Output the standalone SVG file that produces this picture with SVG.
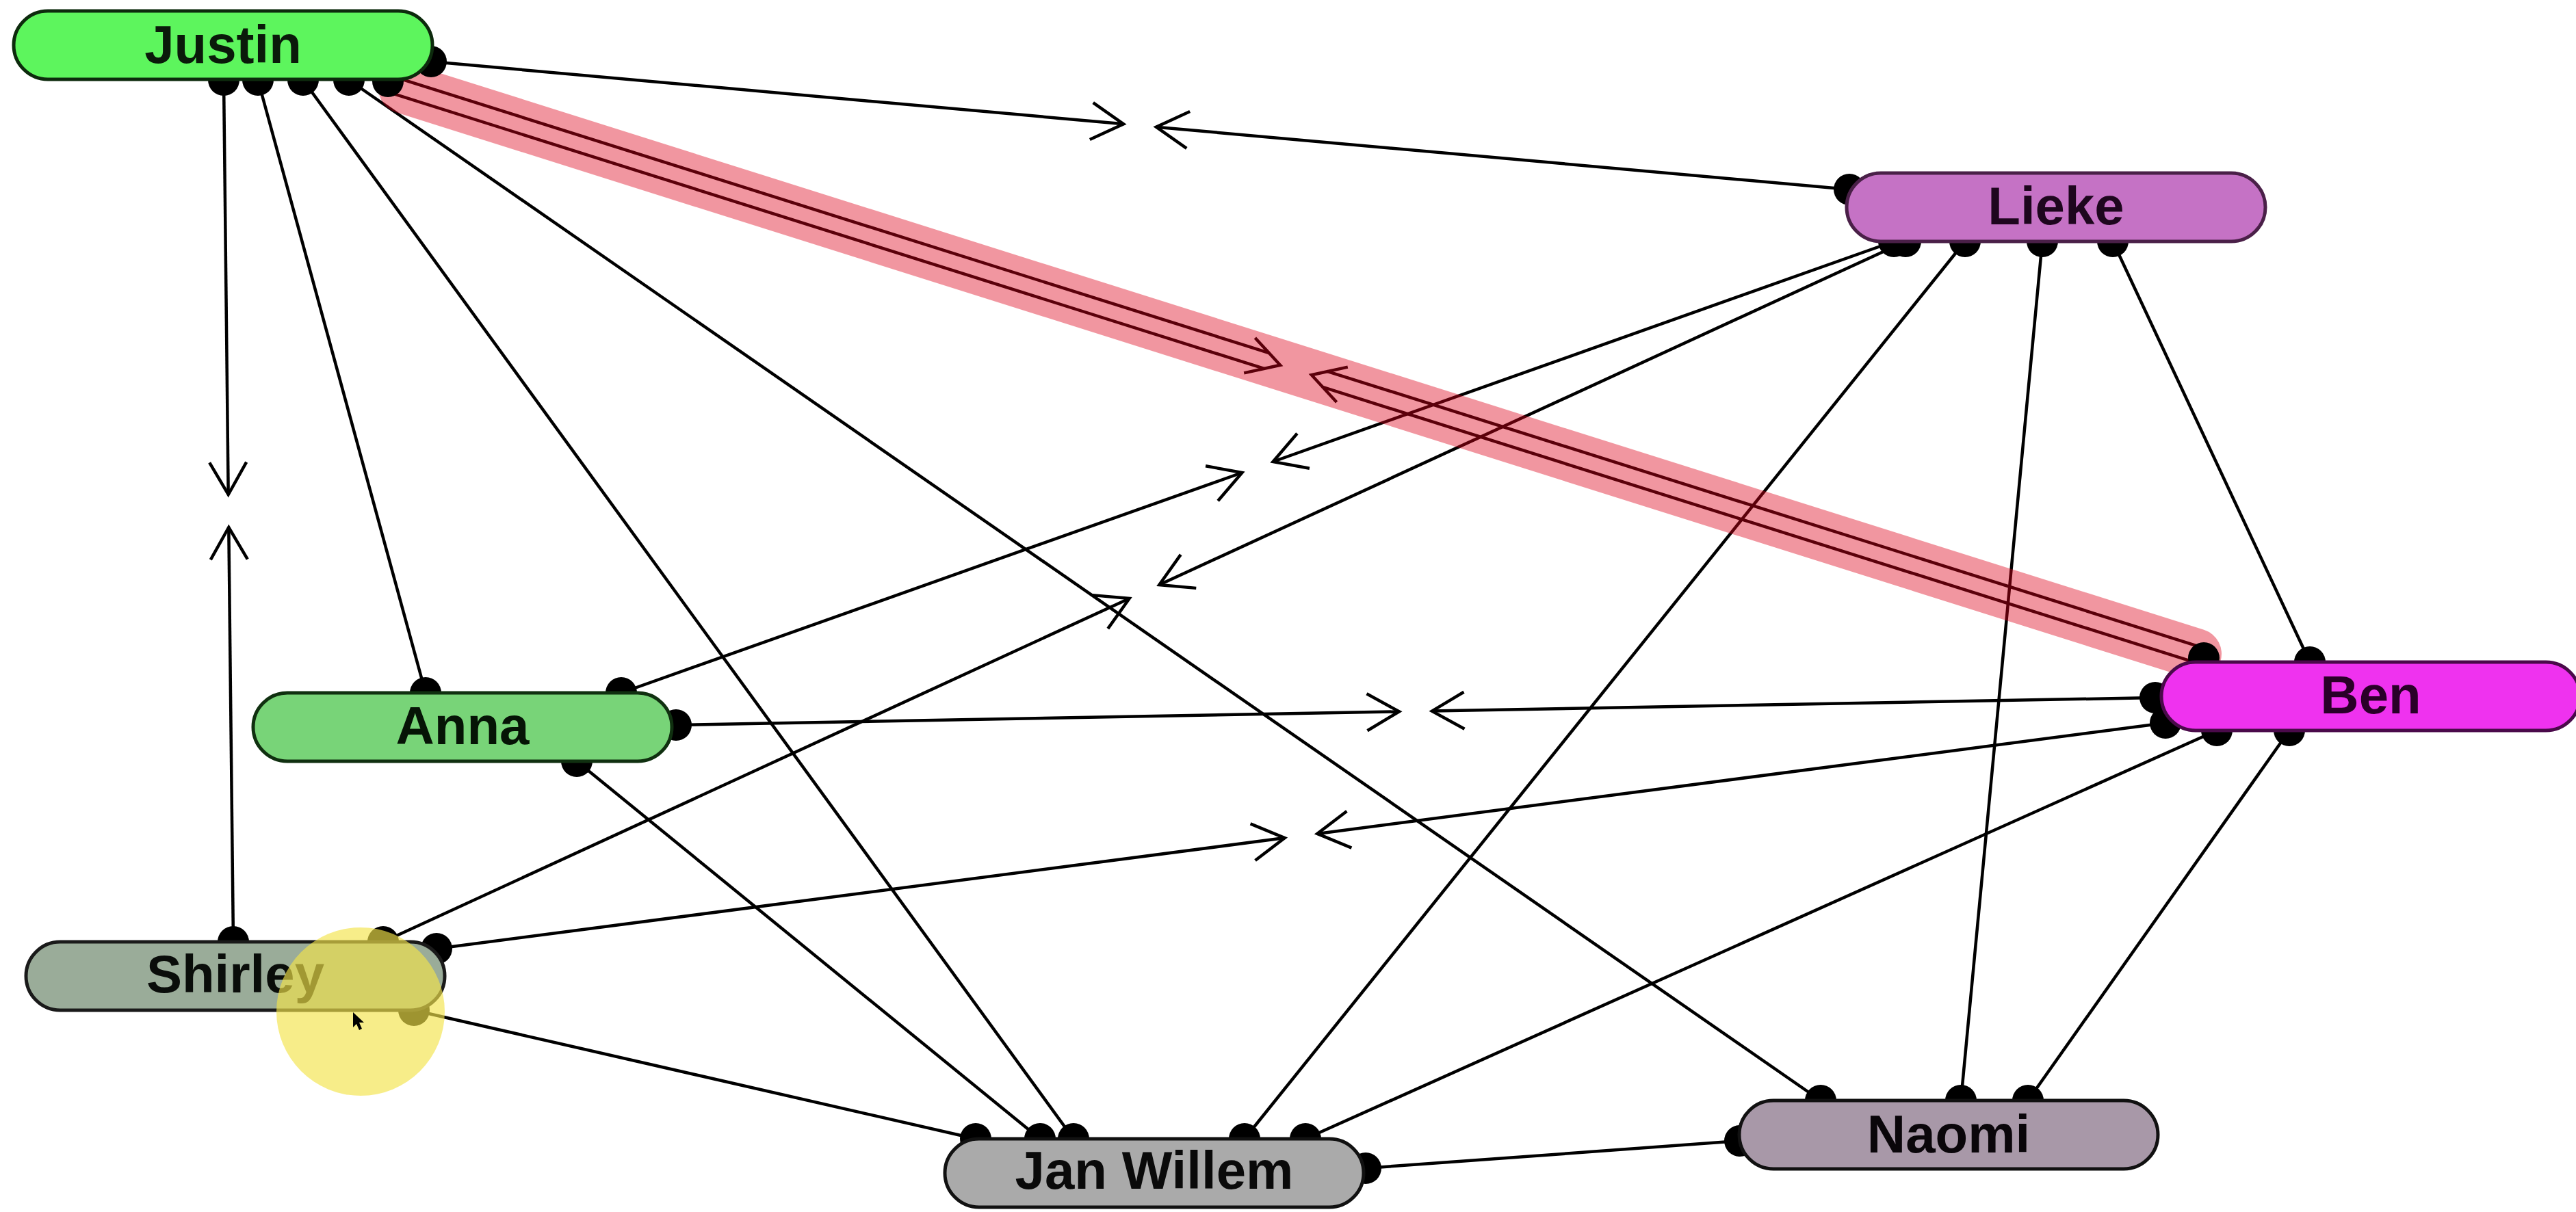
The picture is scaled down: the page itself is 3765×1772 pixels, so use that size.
<svg xmlns="http://www.w3.org/2000/svg" width="3765" height="1772" viewBox="0 0 3765 1772">
<defs>
<style>
.ln{stroke:#000;stroke-width:4.5;fill:none}
.ah{stroke:#000;stroke-width:4.5;fill:none;stroke-linejoin:miter}
.dot{fill:#000}
.box{stroke-width:5}
.lbl{font-family:"Liberation Sans",Arial,sans-serif;font-weight:bold;font-size:78px;text-anchor:middle}
</style>
<marker id="arr" markerUnits="userSpaceOnUse" markerWidth="70" markerHeight="70" viewBox="-60 -35 70 70" refX="0" refY="0" orient="auto" overflow="visible">
<path d="M-47,-27 L0,0 L-47,27" fill="none" stroke="#000" stroke-width="4.5"/>
</marker>
</defs>
<rect width="3765" height="1772" fill="#fff"/>
<g id="connectors">
<!-- bidirectional edges, two halves with arrows toward middle -->
<line class="ln" x1="630" y1="90" x2="1642.1" y2="181.3" marker-end="url(#arr)"/>
<line class="ln" x1="2703" y1="277" x2="1689.9" y2="185.7" marker-end="url(#arr)"/>
<line class="ln" x1="327" y1="117" x2="333.7" y2="723" marker-end="url(#arr)"/>
<line class="ln" x1="341" y1="1377" x2="334.3" y2="771" marker-end="url(#arr)"/>
<line class="ln" x1="2768" y1="353" x2="1860.6" y2="675" marker-end="url(#arr)"/>
<line class="ln" x1="908" y1="1013" x2="1815.4" y2="691" marker-end="url(#arr)"/>
<line class="ln" x1="2785" y1="353" x2="1694.3" y2="855" marker-end="url(#arr)"/>
<line class="ln" x1="560" y1="1377" x2="1650.7" y2="875" marker-end="url(#arr)"/>
<line class="ln" x1="988" y1="1060" x2="2045" y2="1040.4" marker-end="url(#arr)"/>
<line class="ln" x1="3150" y1="1020" x2="2093" y2="1039.6" marker-end="url(#arr)"/>
<line class="ln" x1="638" y1="1387" x2="1877.7" y2="1225.1" marker-end="url(#arr)"/>
<line class="ln" x1="3165" y1="1057" x2="1925.3" y2="1218.9" marker-end="url(#arr)"/>
<!-- Justin - Ben double edge -->
<line class="ln" x1="570.6" y1="110.6" x2="1855.6" y2="516.3"/>
<line class="ln" x1="563.4" y1="133.4" x2="1848.4" y2="539.2"/>
<path class="ah" d="M1818.2,545.4 L1871.1,533.8 L1834.4,493.9"/>
<line class="ln" x1="3224.6" y1="948.6" x2="1939.6" y2="542.8"/>
<line class="ln" x1="3217.4" y1="971.4" x2="1932.4" y2="565.7"/>
<path class="ah" d="M1953.6,588.1 L1916.9,548.2 L1969.8,536.6"/>
<!-- plain edges -->
<line class="ln" x1="377" y1="117" x2="622" y2="1013"/>
<line class="ln" x1="443" y1="117" x2="1569" y2="1665"/>
<line class="ln" x1="510" y1="117" x2="2661" y2="1609"/>
<line class="ln" x1="2872" y1="353" x2="1819" y2="1665"/>
<line class="ln" x1="2985" y1="353" x2="2866" y2="1609"/>
<line class="ln" x1="3088" y1="353" x2="3376" y2="968"/>
<line class="ln" x1="843" y1="1113" x2="1520" y2="1665"/>
<line class="ln" x1="605" y1="1477" x2="1426" y2="1665"/>
<line class="ln" x1="1908" y1="1665" x2="3240" y2="1068"/>
<line class="ln" x1="1996" y1="1708" x2="2543" y2="1668"/>
<line class="ln" x1="3346" y1="1068" x2="2964" y2="1609"/>
<!-- highlight on Justin-Ben -->
<line x1="590" y1="129" x2="3210" y2="956" stroke="rgb(220,0,24)" stroke-opacity="0.41" stroke-width="74" stroke-linecap="round"/>
<!-- endpoint dots -->
<g class="dot">
<circle cx="630" cy="90" r="23"/>
<circle cx="327" cy="117" r="23"/>
<circle cx="377" cy="117" r="23"/>
<circle cx="443" cy="117" r="23"/>
<circle cx="510" cy="117" r="23"/>
<circle cx="567" cy="119" r="23"/>
<circle cx="2703" cy="277" r="23"/>
<circle cx="2768" cy="353" r="23"/>
<circle cx="2785" cy="353" r="23"/>
<circle cx="2872" cy="353" r="23"/>
<circle cx="2985" cy="353" r="23"/>
<circle cx="3088" cy="353" r="23"/>
<circle cx="3221" cy="962" r="23"/>
<circle cx="3376" cy="968" r="23"/>
<circle cx="3150" cy="1020" r="23"/>
<circle cx="3165" cy="1057" r="23"/>
<circle cx="3240" cy="1068" r="23"/>
<circle cx="3346" cy="1068" r="23"/>
<circle cx="622" cy="1013" r="23"/>
<circle cx="908" cy="1013" r="23"/>
<circle cx="988" cy="1060" r="23"/>
<circle cx="843" cy="1113" r="23"/>
<circle cx="341" cy="1377" r="23"/>
<circle cx="560" cy="1377" r="23"/>
<circle cx="638" cy="1387" r="23"/>
<circle cx="605" cy="1477" r="23"/>
<circle cx="1426" cy="1665" r="23"/>
<circle cx="1520" cy="1665" r="23"/>
<circle cx="1569" cy="1665" r="23"/>
<circle cx="1819" cy="1665" r="23"/>
<circle cx="1908" cy="1665" r="23"/>
<circle cx="1996" cy="1708" r="23"/>
<circle cx="2661" cy="1609" r="23"/>
<circle cx="2866" cy="1609" r="23"/>
<circle cx="2964" cy="1609" r="23"/>
<circle cx="2543" cy="1668" r="23"/>
</g>
</g>
<g id="node-justin">
<rect class="box" x="20" y="16" width="612" height="100" rx="50" fill="#5df55d" stroke="#0d2a0d"/>
<text class="lbl" x="326" y="92" fill="#0a1a0a">Justin</text>
</g>
<g id="node-lieke">
<rect class="box" x="2699" y="253" width="612" height="100" rx="50" fill="#c572c5" stroke="#4a2048"/>
<text class="lbl" x="3005" y="328" fill="#1e061e">Lieke</text>
</g>
<g id="node-ben">
<rect class="box" x="3159" y="968" width="612" height="100" rx="50" fill="#ef32ef" stroke="#4a0a4a"/>
<text class="lbl" x="3465" y="1043" fill="#2a0028">Ben</text>
</g>
<g id="node-anna">
<rect class="box" x="370" y="1013" width="612" height="100" rx="50" fill="#78d478" stroke="#103010"/>
<text class="lbl" x="676" y="1088" fill="#061406">Anna</text>
</g>
<g id="node-shirley">
<rect class="box" x="38" y="1377" width="612" height="100" rx="50" fill="#9aac99" stroke="#1a1a1a"/>
<text class="lbl" x="344" y="1451" fill="#0a0d0a">Shirley</text>
</g>
<g id="node-janwillem">
<rect class="box" x="1381" y="1665" width="612" height="100" rx="50" fill="#aaaaaa" stroke="#111"/>
<text class="lbl" x="1687" y="1738" fill="#0a0a0a">Jan Willem</text>
</g>
<g id="node-naomi">
<rect class="box" x="2542" y="1609" width="612" height="100" rx="50" fill="#a898a8" stroke="#111"/>
<text class="lbl" x="2848" y="1685" fill="#0a060a">Naomi</text>
</g>
<circle cx="527" cy="1479" r="123" fill="#f2e44a" fill-opacity="0.65"/>
<path d="M516,1480 L516,1502 L521,1497 L525,1506 L529,1504 L525,1495 L532,1495 Z" fill="#000"/>
</svg>
